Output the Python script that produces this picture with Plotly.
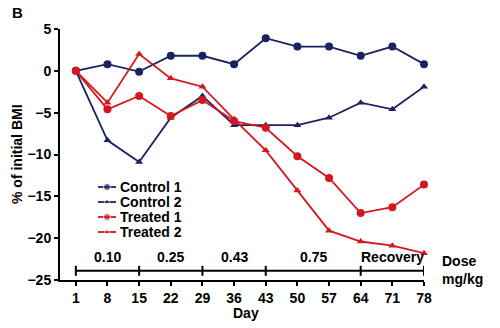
import plotly.graph_objects as go

days = [1, 8, 15, 22, 29, 36, 43, 50, 57, 64, 71, 78]
control1 = [0, 0.8, -0.1, 1.8, 1.8, 0.8, 3.9, 2.9, 2.9, 1.8, 2.9, 0.8]
control2 = [0, -8.3, -10.9, -5.6, -3.0, -6.5, -6.5, -6.5, -5.6, -3.8, -4.6, -1.9]
treated1 = [0, -4.6, -3.0, -5.4, -3.5, -6.0, -6.8, -10.2, -12.8, -17.0, -16.3, -13.6]
treated2 = [0, -3.8, 2.0, -0.9, -1.9, -5.8, -9.5, -14.3, -19.1, -20.4, -20.9, -21.8]

dose_bounds = [1, 15, 29, 43, 64, 78]
dose_labels = ["0.10", "0.25", "0.43", "0.75", "Recovery"]

NAVY = "#1b2263"
RED = "#d5181f"
FONT = "Liberation Sans"
BF = dict(family=FONT, size=14, color="black", weight="bold")

L, R, T, B = 60, 76, 29, 48
W, H = 500, 328
pw, ph = W - L - R, H - T - B


def px(xp):
    return (xp - L) / pw


def py(yp):
    return 1 - (yp - T) / ph


fig = go.Figure()
series = [
    ("Control 1", control1, NAVY, "circle"),
    ("Control 2", control2, NAVY, "triangle-up"),
    ("Treated 1", treated1, RED, "circle"),
    ("Treated 2", treated2, RED, "triangle-up"),
]
for name, vals, col, sym in series:
    fig.add_trace(go.Scatter(
        x=days, y=vals, name=name, mode="lines+markers",
        line=dict(color=col, width=1.8),
        marker=dict(color=col, symbol=sym, size=8 if sym == "circle" else 7),
        cliponaxis=False, showlegend=False,
    ))

# manual compact legend drawn on an overlay axis in pixel units
leg_x0, leg_x1, leg_y0, leg_dy = 98, 116, 187, 15
annotations = []
for i, (name, vals, col, sym) in enumerate(series):
    yy = leg_y0 + i * leg_dy
    fig.add_trace(go.Scatter(
        x=[leg_x0, (leg_x0 + leg_x1) / 2, leg_x1], y=[yy, yy, yy],
        mode="lines+markers", xaxis="x2", yaxis="y2", showlegend=False,
        line=dict(color=col, width=1.8),
        marker=dict(color=col, symbol=sym, size=[0, 7 if sym == "circle" else 6, 0]),
        hoverinfo="skip", cliponaxis=False,
    ))
    annotations.append(dict(x=px(leg_x1 + 2), y=py(yy), xref="paper", yref="paper",
                            text="<b>%s</b>" % name, showarrow=False,
                            xanchor="left", yanchor="middle", font=BF))

bar_y = -23.9
shapes = [dict(type="line", xref="x", yref="y", x0=dose_bounds[0], x1=dose_bounds[-1],
               y0=bar_y, y1=bar_y, line=dict(color="black", width=2))]
for d in dose_bounds:
    shapes.append(dict(type="line", xref="x", yref="y", x0=d, x1=d,
                       y0=bar_y - 0.6, y1=bar_y + 0.6, line=dict(color="black", width=2)))

for i, lab in enumerate(dose_labels):
    mid = (dose_bounds[i] + dose_bounds[i + 1]) / 2
    annotations.append(dict(x=mid, y=bar_y + 0.4, xref="x", yref="y", text="<b>%s</b>" % lab,
                            showarrow=False, yanchor="bottom", font=BF))
annotations.append(dict(x=px(440), y=py(270), xref="paper", yref="paper",
                        text="<b>Dose</b><br><b>mg/kg</b>",
                        showarrow=False, xanchor="left", yanchor="middle", align="left", font=BF))
annotations.append(dict(x=px(10), y=py(12), xref="paper", yref="paper", text="<b>B</b>",
                        showarrow=False, xanchor="left", yanchor="middle",
                        font=dict(BF, size=15)))
annotations.append(dict(x=px((L + W - R) / 2 + 4), y=py(313), xref="paper", yref="paper",
                        text="<b>Day</b>", showarrow=False, xanchor="center",
                        yanchor="middle", font=BF))
annotations.append(dict(x=px(17), y=py(154), xref="paper", yref="paper",
                        text="<b>% of initial BMI</b>", showarrow=False, textangle=-90,
                        xanchor="center", yanchor="middle", font=BF))

fig.update_layout(
    width=W, height=H,
    margin=dict(l=L, r=R, t=T, b=B),
    paper_bgcolor="white", plot_bgcolor="white",
    font=BF,
    showlegend=False,
    shapes=shapes,
    annotations=annotations,
    xaxis=dict(range=[-2.5, 78], tickvals=days, ticktext=["<b>%d</b>" % d for d in days],
               showgrid=False, zeroline=False, showline=True, linecolor="black", linewidth=2,
               ticks="outside", ticklen=4, tickwidth=2, tickcolor="black",
               tickfont=BF, automargin=False),
    yaxis=dict(range=[-25, 5], tickvals=[5, 0, -5, -10, -15, -20, -25],
               ticktext=["<b>%s</b>" % t for t in ["5", "0", "−5", "−10", "−15", "−20", "−25"]],
               showgrid=False, zeroline=False, showline=True, linecolor="black", linewidth=2,
               ticks="outside", ticklen=4, tickwidth=2, tickcolor="black",
               tickfont=BF, automargin=False),
    xaxis2=dict(overlaying="x", range=[L, W - R], visible=False, fixedrange=True),
    yaxis2=dict(overlaying="y", range=[H - B, T], visible=False, fixedrange=True),
)

fig.write_html("out.html")
